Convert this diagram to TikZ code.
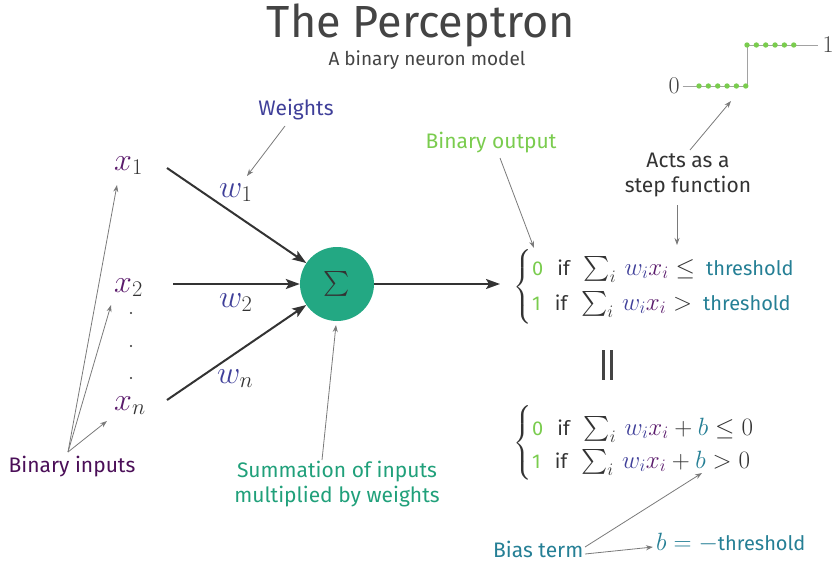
\RequirePackage{fix-cm}
\documentclass[tikz,border=0pt]{standalone}
\usepackage{exscale}
\usepackage[no-math]{fontspec}
\setmainfont{Fira Sans}
\usetikzlibrary{arrows.meta}
\definecolor{titlecol}{HTML}{444444}
\definecolor{anncol}{HTML}{7A7A7A}
\definecolor{maincol}{HTML}{333333}
\definecolor{sumfill}{HTML}{23A883}
\definecolor{sumtxt}{HTML}{20A07A}
\definecolor{grn}{HTML}{7ACC4E}
\definecolor{wcol}{HTML}{3F3F99}
\definecolor{xcol}{HTML}{5A1A6B}
\definecolor{incol}{HTML}{4B0F58}
\definecolor{thc}{HTML}{257F95}
\tikzset{
  lbl/.style={font=\fontsize{21}{25}\selectfont, inner sep=0pt},
  ann/.style={draw=anncol, line width=0.8pt, -{Stealth[length=7pt,width=5pt]}},
  mainarr/.style={draw=maincol, line width=2pt, -{Stealth[length=14pt,width=10pt,inset=3pt]}},
  mth/.style={font=\fontsize{32}{36}\selectfont, inner sep=0pt},
  eqrow/.style={font=\fontsize{20}{24}\selectfont, inner sep=0pt, anchor=base west, text=maincol},
  brc/.style={inner sep=0pt, text=maincol},
}
\newcommand{\eqm}[1]{{\fontsize{25}{29}\selectfont$#1$}}
\newcommand{\wx}{\sum_i\, \textcolor{wcol}{w_i}\textcolor{xcol}{x_i}}
\newcommand{\bracepiece}{{\fontsize{21}{25}\selectfont$\left\{\vcenter{\hbox{\rule{0pt}{70pt}}}\right.$}}
\begin{document}
\begin{tikzpicture}[x=1pt,y=-1pt]
\useasboundingbox (0,0) rectangle (838,565);
% title
\node[font=\fontsize{45}{48}\selectfont, text=titlecol, inner sep=0pt] (title) at (421,25) {The Perceptron};
\node[font=\fontsize{19}{22}\selectfont, text=titlecol, inner sep=0pt] (subt) at (427,60) {A binary neuron model};
% step function
\node[inner sep=0pt, text=titlecol, font=\fontsize{24}{26}\selectfont] (s0) at (674,86) {$0$};
\node[inner sep=0pt, text=titlecol, font=\fontsize{24}{26}\selectfont] (s1) at (828,45) {$1$};
\coordinate (sb) at (747,86);
\coordinate (sc) at (747,45);
\draw[anncol!70, line width=1pt] ([xshift=3pt]s0.east) -- (sb) -- (sc) -- ([xshift=-4pt]s1.west);
\foreach \i in {0,...,5} {
  \fill[grn] (699+9.35*\i,86) circle (2.7pt);
  \fill[grn] (747+9.35*\i,45) circle (2.7pt);
}
\node[lbl, text=maincol, align=center] (acts) at (688,175) {Acts as a\\step function};
\coordinate (stepmid) at (731,101);
\coordinate (actstop) at (690,150);
\draw[ann] (actstop) -- (stepmid);
% inputs
\node[mth, anchor=base west, text=xcol] (x1) at (114,170) {$x_{\textcolor{maincol}{1}}$};
\node[mth, anchor=base west, text=xcol] (x2) at (114,292) {$x_{\textcolor{maincol}{2}}$};
\node[mth, anchor=base west, text=xcol] (xn) at (114,410) {$x_{\textcolor{maincol}{n}}$};
\foreach \yy in {313,346,378} \fill[maincol] (131,\yy) circle (1.2pt);
% weights
\node[mth, anchor=base west, text=wcol] (w1) at (219,197) {$w_{\textcolor{maincol}{1}}$};
\node[mth, anchor=base west, text=wcol] (w2) at (219,307) {$w_{\textcolor{maincol}{2}}$};
\node[mth, anchor=base west, text=wcol] (wn) at (217,383) {$w_{\textcolor{maincol}{n}}$};
% sum node
\node[circle, fill=sumfill, minimum size=74pt, inner sep=0pt, text=maincol] (sum) at (337,284) {\fontsize{34}{34}\selectfont$\textstyle\sum$};
\coordinate (a1) at (167,168);
\coordinate (a2) at (173,284);
\coordinate (an) at (167,400);
\draw[mainarr] (a1) -- (sum);
\draw[mainarr] (a2) -- (sum);
\draw[mainarr] (an) -- (sum);
\coordinate (eqin) at (500,284);
\draw[mainarr] (sum) -- (eqin);
% labels
\node[lbl, text=wcol] (weights) at (296,110) {Weights};
\coordinate (wt) at (285,126);
\coordinate (wh) at (247,176);
\draw[ann] (wt) -- (wh);
\node[lbl, text=incol] (binin) at (72,467) {Binary inputs};
\coordinate (bi) at (68,452);
\coordinate (bi1) at (117,185);
\coordinate (bi2) at (111,305);
\coordinate (bin) at (107,421);
\draw[ann] (bi) -- (bi1);
\draw[ann] (bi) -- (bi2);
\draw[ann] (bi) -- (bin);
\node[lbl, text=sumtxt, align=center] (sumlbl) at (337,484) {Summation of inputs\\multiplied by weights};
\coordinate (st) at (322,460);
\coordinate (sh) at (336,325);
\draw[ann] (st) -- (sh);
\node[lbl, text=grn] (binout) at (491,143) {Binary output};
\coordinate (bot) at (500,158);
\coordinate (boh) at (534,248);
\draw[ann] (bot) -- (boh);
\coordinate (at2) at (677,205);
\coordinate (ah2) at (677,245);
\draw[ann] (at2) -- (ah2);
% equation 1
\node[brc] (br1) at (523,287) {\bracepiece};
\node[eqrow] (e1a) at (532,275) {\textcolor{grn}{0}\hspace{14pt}if\hspace{14pt}\eqm{\wx \le}\hspace{11pt}\textcolor{thc}{threshold}};
\node[eqrow] (e1b) at (532,310) {\textcolor{grn}{1}\hspace{14pt}if\hspace{14pt}\eqm{\wx >}\hspace{11pt}\textcolor{thc}{threshold}};
% double bar
\draw[titlecol, line width=3pt] (603,350) -- (603,380);
\draw[titlecol, line width=3pt] (611,350) -- (611,380);
% equation 2
\node[brc] (br2) at (523,443) {\bracepiece};
\node[eqrow] (e2a) at (532,435) {\textcolor{grn}{0}\hspace{14pt}if\hspace{14pt}\eqm{\wx + \textcolor{thc}{b} \le 0}};
\node[eqrow] (e2b) at (532,468) {\textcolor{grn}{1}\hspace{14pt}if\hspace{14pt}\eqm{\wx + \textcolor{thc}{b} > 0}};
% bias
\node[lbl, text=thc, anchor=base west] (bias) at (493,557) {Bias term};
\node[eqrow, text=thc] (bdef) at (656,550) {\eqm{b = -}\textcolor{thc}{threshold}};
\coordinate (bt1) at (585,547);
\coordinate (bh1) at (702,473);
\coordinate (bt2) at (585,554);
\coordinate (bh2) at (653,547);
\draw[ann] (bt1) -- (bh1);
\draw[ann] (bt2) -- (bh2);
\end{tikzpicture}
\end{document}
